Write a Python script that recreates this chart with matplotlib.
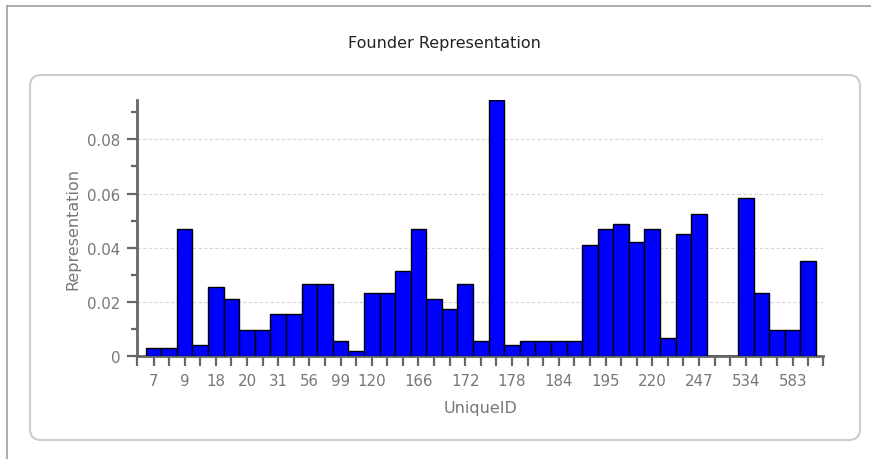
import matplotlib
matplotlib.use("Agg")
import matplotlib.pyplot as plt
from matplotlib.patches import FancyBboxPatch
from matplotlib.lines import Line2D
from matplotlib.transforms import IdentityTransform
from matplotlib.ticker import MultipleLocator

# founder ids (only the ones the chart prints are known, others left blank)
unique_ids = ["7", "", "9", "", "18", "", "20", "", "31", "", "56", "", "99", "",
              "120", "", "", "166", "", "", "172", "", "", "178", "", "", "184", "",
              "", "195", "", "", "220", "", "", "247", "", "", "534", "", "", "583", ""]
representation = [0.003, 0.003, 0.047, 0.004, 0.0255, 0.0212, 0.0097, 0.0097, 0.0155,
                  0.0155, 0.0265, 0.0265, 0.0058, 0.002, 0.0232, 0.0232, 0.0313,
                  0.0468, 0.0212, 0.0174, 0.0265, 0.0058, 0.0946, 0.004, 0.0058,
                  0.0058, 0.0058, 0.0058, 0.0411, 0.0468, 0.0487, 0.042, 0.0468,
                  0.0069, 0.0449, 0.0526, 0.0, 0.0, 0.0584, 0.0232, 0.0097, 0.0097,
                  0.0352]

axis_col = "#666666"
text_col = "#777777"

fig = plt.figure(figsize=(8.71, 4.60), dpi=100)

# outer frame (top and left edge only) and the rounded panel, behind the axes
fig.add_artist(Line2D([7, 871], [453, 453], transform=IdentityTransform(), color="#a0a0a0", lw=1.2))
fig.add_artist(Line2D([7, 7], [0, 453], transform=IdentityTransform(), color="#a0a0a0", lw=1.2))
fig.add_artist(FancyBboxPatch((30, 19), 830, 365, boxstyle="round,pad=0,rounding_size=11",
                              transform=IdentityTransform(), facecolor="white",
                              edgecolor="#cccccc", lw=1.5, zorder=-1))

ax = fig.add_axes([0.1573, 0.2233, 0.7879, 0.5578])
ax.set_facecolor("none")

n = len(representation)
x = list(range(n))
ax.bar(x, representation, width=1.0, color="#0000ff", edgecolor="black", linewidth=1.0, zorder=3)

ax.set_ylim(0, max(representation))
x_lo, x_hi = -1.06, n - 0.5 + 0.47
ax.set_xlim(x_lo, x_hi)

ax.set_xticks([x_lo] + x + [x_hi])
ax.set_xticklabels([""] + unique_ids + [""])
ax.yaxis.set_major_locator(MultipleLocator(0.02))
ax.yaxis.set_minor_locator(MultipleLocator(0.01))
ax.set_yticklabels(["0" if v == 0 else f"{v:.2f}" for v in ax.get_yticks()])

for s in ["top", "right"]:
    ax.spines[s].set_visible(False)
for s in ["left", "bottom"]:
    ax.spines[s].set_color(axis_col)
    ax.spines[s].set_linewidth(2)

ax.tick_params(axis="x", length=7, width=1.6, color=axis_col, labelcolor=text_col,
               labelsize=10.8, pad=5)
ax.tick_params(axis="y", which="major", length=7, width=1.6, color=axis_col,
               labelcolor=text_col, labelsize=10.8, pad=5)
ax.tick_params(axis="y", which="minor", length=4, width=1.6, color=axis_col)

ax.grid(axis="y", color="#d6d6d6", linestyle=(0, (3, 2)), linewidth=0.8, zorder=0)

ax.set_xlabel("UniqueID", color=text_col, fontsize=11.5)
ax.xaxis.set_label_coords(0.5, -0.198)
ax.xaxis.label.set_va("center")
ax.set_ylabel("Representation", color=text_col, fontsize=11.5)
ax.yaxis.set_label_coords(-0.093, 0.5)
ax.yaxis.label.set_va("center")

fig.text(0.51, 0.9065, "Founder Representation", ha="center", va="center",
         fontsize=11.5, color="#222222")

fig.savefig("out.png", dpi=100)
